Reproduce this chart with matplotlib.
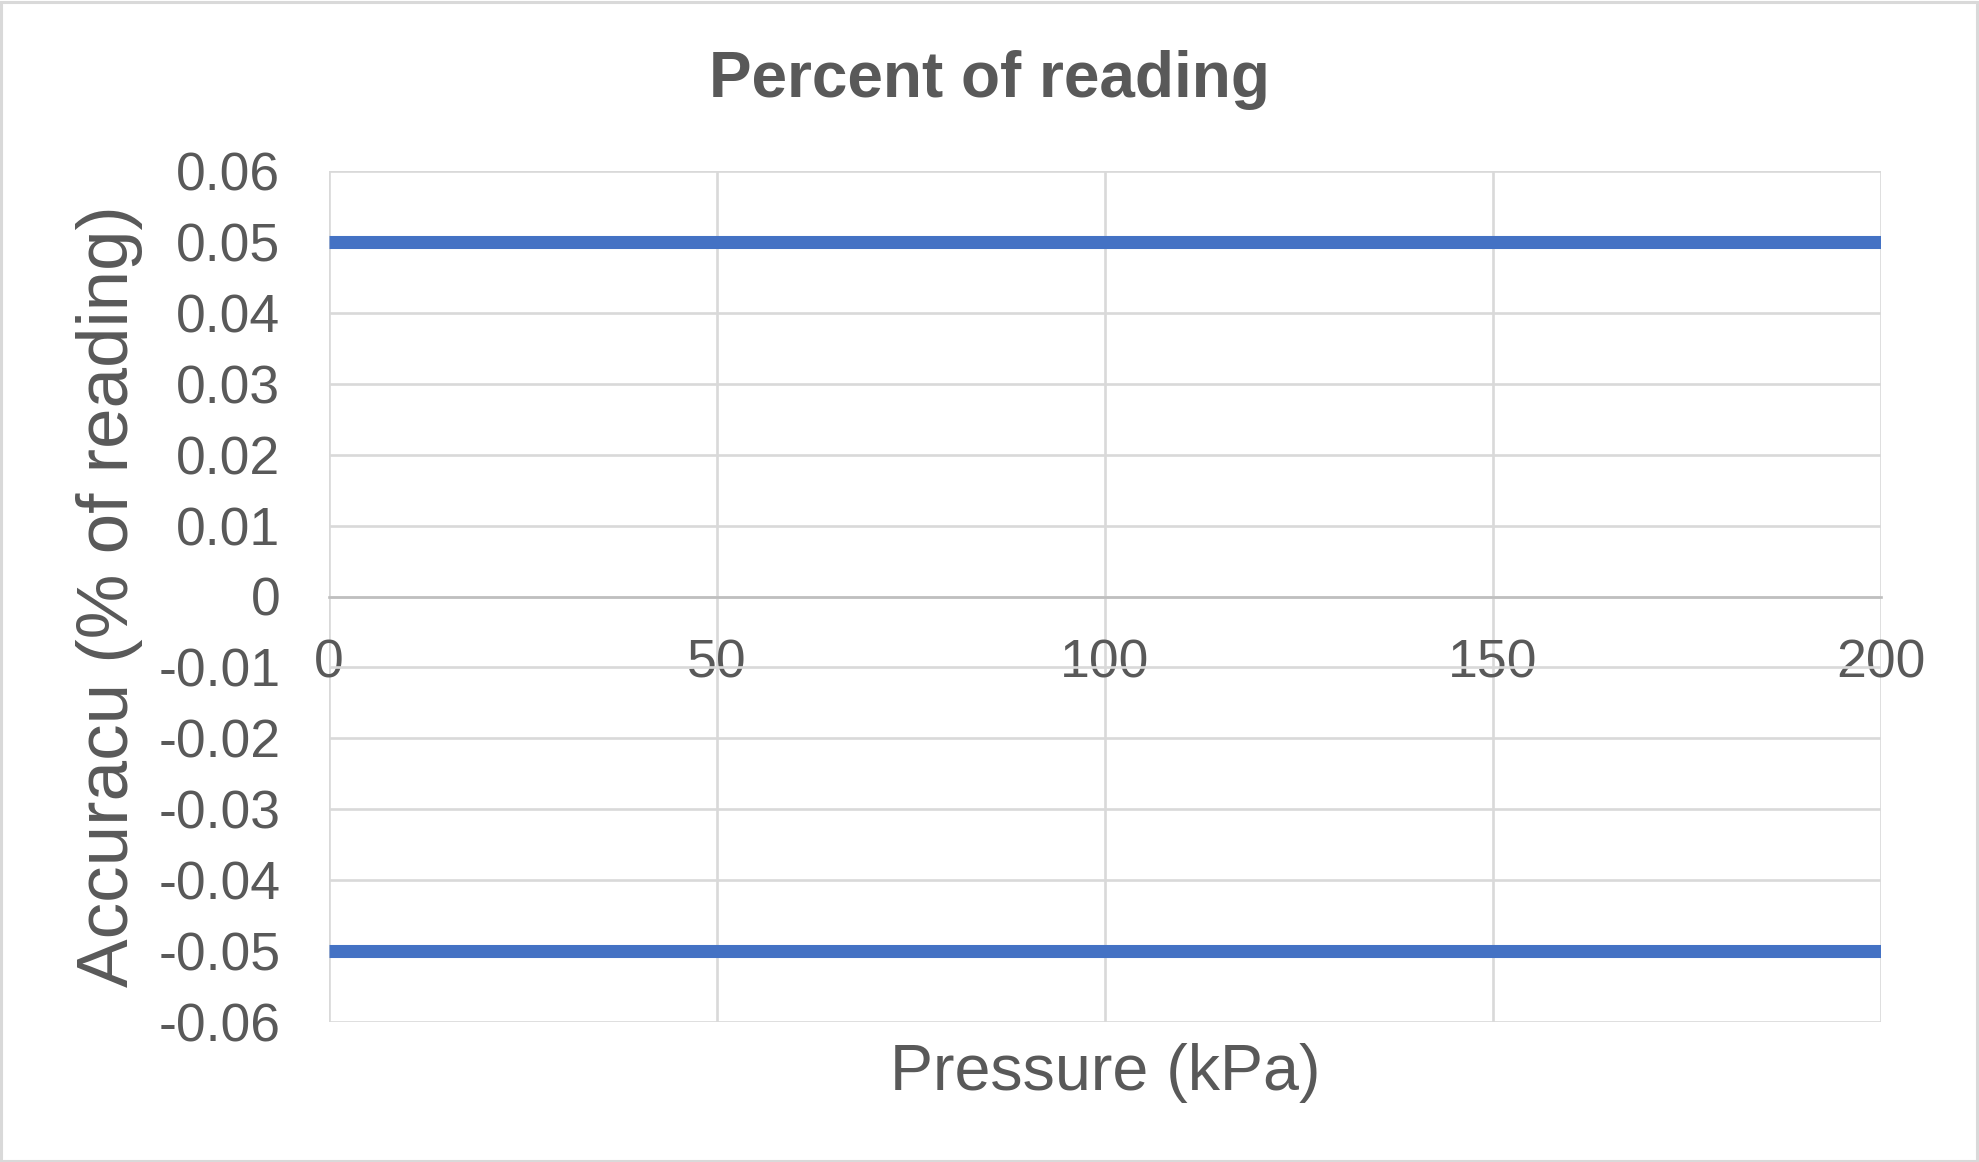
import numpy as np
import matplotlib
matplotlib.use("Agg")
import matplotlib.pyplot as plt
from matplotlib.patches import Rectangle

# data
pressure = [0, 200]
upper_limit = [0.05, 0.05]
lower_limit = [-0.05, -0.05]

x_ticks = [0, 50, 100, 150, 200]
x_tick_labels = ["0", "50", "100", "150", "200"]
y_ticks = [-0.06, -0.05, -0.04, -0.03, -0.02, -0.01, 0, 0.01, 0.02, 0.03, 0.04, 0.05, 0.06]
y_tick_labels = ["-0.06", "-0.05", "-0.04", "-0.03", "-0.02", "-0.01", "0",
                 "0.01", "0.02", "0.03", "0.04", "0.05", "0.06"]

text_col = "#595959"
grid_col = "#d9d9d9"
line_col = "#4472c4"

plt.rcParams['font.family'] = ['Liberation Sans', 'DejaVu Sans']

W, H = 1979, 1162
fig = plt.figure(figsize=(W / 100, H / 100), dpi=100)
ax = fig.add_axes([329 / W, 1 - 1022 / H, (1881 - 329) / W, (1022 - 171) / H])

# limits
ax.plot(pressure, upper_limit, color=line_col, lw=9.4, solid_capstyle='butt', zorder=3)
ax.plot(pressure, lower_limit, color=line_col, lw=9.4, solid_capstyle='butt', zorder=3)

ax.set_xlim(0, 200)
ax.set_ylim(-0.06, 0.06)

ax.set_yticks(y_ticks)
ax.set_yticklabels(y_tick_labels)
ax.set_xticks(x_ticks)
ax.set_xticklabels(x_tick_labels)

ax.grid(True, color=grid_col, lw=1.9, zorder=0)
for s in ['top', 'right', 'left']:
    ax.spines[s].set_visible(False)
ax.spines['bottom'].set_position(('data', 0))
ax.spines['bottom'].set_color('#bfbfbf')
ax.spines['bottom'].set_linewidth(1.9)
ax.spines['bottom'].set_zorder(2)

ax.tick_params(axis='both', length=0, labelsize=38.5, labelcolor=text_col)
ax.tick_params(axis='y', pad=35)
ax.tick_params(axis='x', pad=30)

fig.text(0.5, 1 - 97 / H, "Percent of reading", ha='center', va='baseline',
         fontsize=46, fontweight='bold', color=text_col)
fig.text(1105 / W, 1 - 1090 / H, "Pressure (kPa)", ha='center', va='baseline',
         fontsize=46.5, color=text_col)
fig.text(110 / W, 1 - 596 / H, "Accuracu (% of reading)", ha='center', va='center',
         rotation=90, fontsize=52.5, color=text_col)

# chart border
fig.patches.append(Rectangle((1 / W, 1 / H), 1 - 3 / W, 1 - 3 / H, transform=fig.transFigure,
                             fill=False, edgecolor=grid_col, lw=2.2))

fig.savefig("out.png", dpi=100, facecolor='white')
